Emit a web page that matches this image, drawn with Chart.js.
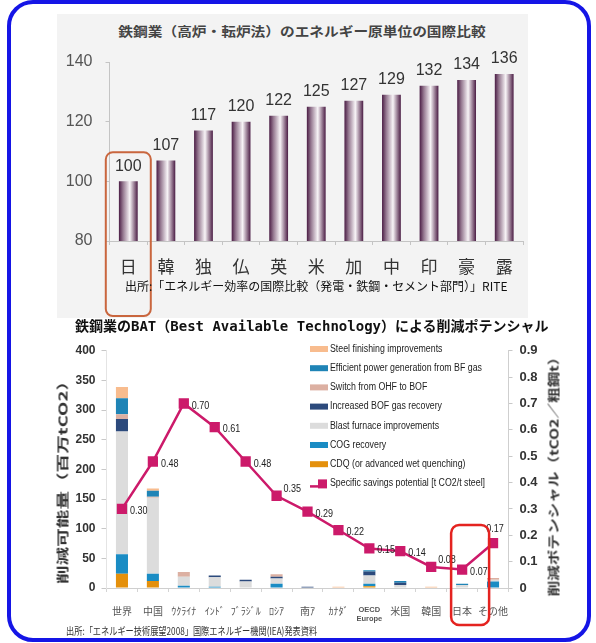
<!DOCTYPE html>
<html>
<head>
<meta charset="utf-8">
<script src="https://cdn.jsdelivr.net/npm/chart.js@4.4.1/dist/chart.umd.min.js"></script>
<style>
  html, body { margin: 0; padding: 0; background: #fff; }
  body { width: 596px; height: 643px; position: relative; overflow: hidden; font-family: "Noto Sans CJK JP", sans-serif; }
  .frame { position: absolute; left: 7px; top: 0; width: 584px; height: 642px; box-sizing: border-box; border: 4px solid #1515e6; border-radius: 26px; }
  .panel { position: absolute; left: 57px; top: 14px; width: 471px; height: 304px; background: #f3f3f3; }
  .t1 { position: absolute; left: 302px; top: 30px; transform: translate(-50%, -50%) scaleX(1.13); white-space: nowrap; font-size: 13px; font-weight: 700; color: #444; }
  .src1 { position: absolute; left: 125px; top: 285px; transform: translateY(-50%); white-space: nowrap; font-size: 12px; color: #111; }
  .t2 { position: absolute; left: 75px; top: 325px; transform: translateY(-50%); white-space: nowrap; font-family: "DejaVu Sans Mono", "Noto Sans CJK JP", monospace; font-size: 14px; font-weight: 700; color: #111; }
  .vt { position: absolute; white-space: nowrap; font-size: 12px; font-weight: 700; color: #333; }
  .src2 { position: absolute; left: 66px; top: 630px; transform-origin: left center; transform: translateY(-50%) scaleX(0.78); white-space: nowrap; font-size: 10.5px; color: #333; }
  canvas { position: absolute; }
</style>
</head>
<body>
<div class="panel"></div>
<div class="t1">鉄鋼業（高炉・転炉法）のエネルギー原単位の国際比較</div>
<canvas id="rank" width="480" height="310" style="left:50px;top:12px"></canvas>
<div class="src1">出所:「エネルギー効率の国際比較（発電・鉄鋼・セメント部門）」RITE</div>

<div class="t2">鉄鋼業のBAT（Best Available Technology）による削減ポテンシャル</div>
<canvas id="bat" width="550" height="296" style="left:40px;top:336px"></canvas>
<div class="vt" style="left:62px;top:478px;transform:translate(-50%,-50%) rotate(-90deg) scaleX(1.55)">削減可能量（百万tCO2）</div>
<div class="vt" style="left:553px;top:473px;transform:translate(-50%,-50%) rotate(-90deg) scaleX(1.3)">削減ポテンシャル（tCO2／粗鋼t）</div>
<div class="src2">出所:「エネルギー技術展望2008」国際エネルギー機関(IEA)発表資料</div>
<div class="frame"></div>

<script>
// Energy intensity index, blast furnace / BOF route (Japan = 100)
const RANK_LABELS = ["日", "韓", "独", "仏", "英", "米", "加", "中", "印", "豪", "露"];
const RANK_VALUES = [100, 107, 117, 120, 122, 125, 127, 129, 132, 134, 136];

// BAT savings potential by region (Mt CO2), one array per measure, stacked bottom-up
const BAT_LABELS = ["世界", "中国", "ｳｸﾗｲﾅ", "ｲﾝﾄﾞ", "ﾌﾞﾗｼﾞﾙ", "ﾛｼｱ", "南ｱ", "ｶﾅﾀﾞ", ["OECD", "Europe"], "米国", "韓国", "日本", "その他"];
const CDQ        = [24, 12, 0, 0, 0, 0, 0, 1, 3, 0, 1, 0, 0];
const COG        = [33, 12, 4, 2, 0, 7, 0, 0, 4, 0, 0, 0, 11];
const BLAST      = [207, 128, 15, 16, 11, 9, 1, 0, 14, 5, 0, 5, 3];
const BOF_GAS    = [21, 0, 0, 3, 3, 3, 1, 0, 7, 4, 0, 0, 0];
const OHF_TO_BOF = [8, 2, 8, 0, 0, 4, 0, 0, 0, 0, 0, 0, 3];
const BF_POWER   = [27, 10, 0, 0, 0, 0, 0, 0, 2, 3, 0, 2, 0];
const FINISHING  = [19, 4, 0, 0, 0, 0, 0, 1, 0, 0, 1, 0, 0];
// Specific savings potential (t CO2 / t steel)
const SAVINGS = [0.30, 0.48, 0.70, 0.61, 0.48, 0.35, 0.29, 0.22, 0.15, 0.14, 0.08, 0.07, 0.17];

const SANS = '"Liberation Sans", Arial, sans-serif';
const JP = '"Noto Sans CJK JP", sans-serif';

// ---------- top: index bars ----------
const BAR_PCT = 0.5;

function cylinderFill(c) {
  const chart = c.chart;
  const x = chart.scales.x;
  if (c.type !== "data" || !x || !chart.chartArea) return "#6a3f63";
  const cx = x.getPixelForValue(c.dataIndex);
  const hw = (x.width / RANK_LABELS.length) * BAR_PCT / 2;
  const g = chart.ctx.createLinearGradient(cx - hw, 0, cx + hw, 0);
  g.addColorStop(0, "#4a1c44");
  g.addColorStop(0.22, "#957890");
  g.addColorStop(0.58, "#f8f4f7");
  g.addColorStop(0.82, "#957890");
  g.addColorStop(1, "#4a1c44");
  return g;
}

const rankDecor = {
  id: "rankDecor",
  afterDatasetsDraw(chart) {
    const { ctx, chartArea } = chart;
    const bars = chart.getDatasetMeta(0).data;
    ctx.save();
    ctx.font = "16px " + SANS;
    ctx.fillStyle = "#333";
    ctx.textAlign = "center";
    ctx.textBaseline = "middle";
    bars.forEach((b, i) => ctx.fillText(String(RANK_VALUES[i]), b.x, b.y - 15));

    // highlight frame round Japan
    const jx = chart.scales.x.getPixelForValue(0);
    const top = chart.scales.y.getPixelForValue(RANK_VALUES[0]) - 29;
    ctx.strokeStyle = "#c9663e";
    ctx.lineWidth = 2;
    ctx.beginPath();
    ctx.roundRect(jx - 22.5, top, 45, chartArea.bottom + 75 - top, 7);
    ctx.stroke();
    ctx.restore();
  }
};

new Chart(document.getElementById("rank"), {
  type: "bar",
  data: {
    labels: RANK_LABELS,
    datasets: [{ data: RANK_VALUES, backgroundColor: cylinderFill, barPercentage: BAR_PCT, categoryPercentage: 1 }]
  },
  options: {
    responsive: false,
    animation: false,
    layout: { padding: { top: 50, right: 7, left: 0, bottom: 0 } },
    plugins: { legend: { display: false }, tooltip: { enabled: false } },
    scales: {
      x: {
        grid: { drawOnChartArea: false, tickLength: 4, color: "#c4c4c4" },
        border: { color: "#c4c4c4" },
        ticks: { padding: 11, color: "#333", font: { family: JP, size: 17 } },
        afterFit(s) { s.height = 81; }
      },
      y: {
        min: 80, max: 140,
        grid: { drawOnChartArea: false, tickLength: 4, color: "#c4c4c4" },
        border: { color: "#c4c4c4" },
        ticks: { stepSize: 20, padding: 13, color: "#555", font: { family: SANS, size: 16 } },
        afterFit(s) { s.width = 59.5; }
      }
    }
  },
  plugins: [rankDecor]
});

// ---------- bottom: BAT stacked bars + specific savings line ----------
const MEASURES = [
  { label: "CDQ (or advanced wet quenching)", data: CDQ, color: "#e4900c" },
  { label: "COG recovery", data: COG, color: "#1a8cc4" },
  { label: "Blast furnace improvements", data: BLAST, color: "#dcdcdc" },
  { label: "Increased BOF gas recovery", data: BOF_GAS, color: "#2c4a7c" },
  { label: "Switch from OHF to BOF", data: OHF_TO_BOF, color: "#dcb0a2" },
  { label: "Efficient power generation from BF gas", data: BF_POWER, color: "#1f84b6" },
  { label: "Steel finishing improvements", data: FINISHING, color: "#f8bc8e" }
];
const LINE_COLOR = "#cc1a6a";
const LABEL_ABOVE = new Set([5, 10]);

const batDecor = {
  id: "batDecor",
  afterDatasetsDraw(chart) {
    const { ctx, chartArea } = chart;
    const sets = chart.data.datasets;
    const lineIdx = sets.length - 1;
    const pts = chart.getDatasetMeta(lineIdx).data;
    ctx.save();

    // value tags beside the line markers
    ctx.font = "11px " + SANS;
    ctx.fillStyle = "#222";
    ctx.textBaseline = "middle";
    ctx.textAlign = "left";
    pts.forEach((p, i) => {
      const txt = SAVINGS[i].toFixed(2);
      const w = ctx.measureText(txt).width * 0.82;
      let tx = p.x + 8, ty = p.y + 2;
      if (LABEL_ABOVE.has(i)) { tx = p.x + 7; ty = p.y - 7; }
      if (i === pts.length - 1) { tx = p.x - w / 2 + 2; ty = p.y - 14; }
      ctx.fillText(txt, tx, ty, w);
    });

    // legend block, top measure first, line series last
    const lx = 270, ly = 13, step = 19.2;
    ctx.font = "10px " + SANS;
    const order = sets.slice(0, lineIdx).map((d, i) => i).reverse().concat([lineIdx]);
    order.forEach((di, k) => {
      const d = sets[di];
      const y = ly + k * step;
      if (d.type === "line") {
        ctx.strokeStyle = LINE_COLOR;
        ctx.lineWidth = 2.5;
        ctx.beginPath(); ctx.moveTo(lx, y + 3); ctx.lineTo(lx + 10, y + 3); ctx.stroke();
        ctx.fillStyle = LINE_COLOR;
        ctx.fillRect(lx + 8, y - 4, 9, 9);
      } else {
        ctx.fillStyle = d.backgroundColor;
        ctx.fillRect(lx, y - 3, 18, 6);
      }
      ctx.fillStyle = "#222";
      ctx.fillText(d.label, lx + 20, y, ctx.measureText(d.label).width * 0.88);
    });

    // highlight frame round Japan
    const jx = chart.scales.x.getPixelForValue(BAT_LABELS.indexOf("日本"));
    ctx.strokeStyle = "#e42320";
    ctx.lineWidth = 2.5;
    ctx.beginPath();
    ctx.roundRect(jx - 11, chartArea.bottom - 63, 38, 100, 8);
    ctx.stroke();
    ctx.restore();
  }
};

new Chart(document.getElementById("bat"), {
  type: "bar",
  data: {
    labels: BAT_LABELS,
    datasets: MEASURES.map(m => ({
      type: "bar", label: m.label, data: m.data, backgroundColor: m.color,
      stack: "bat", yAxisID: "y", order: 1, barPercentage: 0.39, categoryPercentage: 1
    })).concat([{
      type: "line", label: "Specific savings potential [t CO2/t steel]", data: SAVINGS,
      yAxisID: "y2", order: 0, borderColor: LINE_COLOR, backgroundColor: LINE_COLOR,
      borderWidth: 2.5, pointStyle: "rect", pointRadius: 5.5, pointBackgroundColor: LINE_COLOR,
      pointBorderColor: LINE_COLOR, fill: false, tension: 0
    }])
  },
  options: {
    responsive: false,
    animation: false,
    layout: { padding: { top: 14, right: 0, left: 0, bottom: 0 } },
    plugins: { legend: { display: false }, tooltip: { enabled: false } },
    scales: {
      x: {
        stacked: true,
        grid: { drawOnChartArea: false, tickLength: 4, color: "#d4d4d4" },
        border: { color: "#cfcfcf" },
        ticks: {
          padding: 13, color: "#555", autoSkip: false, maxRotation: 0,
          font: c => (c.index === 8 ? { family: SANS, size: 7.5, weight: "bold" } : { family: JP, size: 10 })
        },
        afterFit(s) { s.height = 44; }
      },
      y: {
        stacked: true, min: 0, max: 400,
        grid: { drawOnChartArea: false, tickLength: 5, color: "#c8c8c8" },
        border: { color: "#e4e4e4" },
        ticks: { stepSize: 50, padding: 6, color: "#333", font: { family: SANS, size: 12, weight: "bold" } },
        afterFit(s) { s.width = 66.5; }
      },
      y2: {
        position: "right", min: 0, max: 0.9,
        grid: { drawOnChartArea: false, tickLength: 4, color: "#c8c8c8" },
        border: { color: "#cfcfcf" },
        ticks: {
          stepSize: 0.1, padding: 7, color: "#333", font: { family: SANS, size: 13, weight: "bold" },
          callback: v => (v === 0 ? "0" : Number(v).toFixed(1))
        },
        afterFit(s) { s.width = 81.5; }
      }
    }
  },
  plugins: [batDecor]
});
</script>
</body>
</html>
